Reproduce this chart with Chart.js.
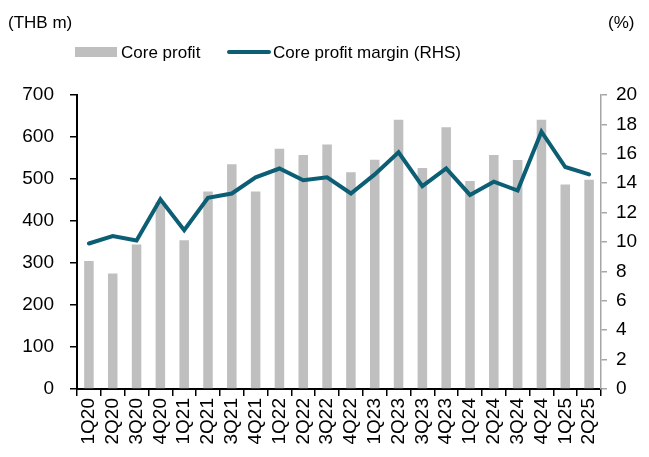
<!DOCTYPE html>
<html>
<head>
<meta charset="utf-8">
<script src="https://cdn.jsdelivr.net/npm/chart.js@4"></script>
<style>
    body { margin: 0; background: #ffffff; }
</style>
</head>
<body>
<canvas id="myChart" width="649" height="457"></canvas>
<script>
const labels = [
    '1Q20', '2Q20', '3Q20', '4Q20',
    '1Q21', '2Q21', '3Q21', '4Q21',
    '1Q22', '2Q22', '3Q22', '4Q22',
    '1Q23', '2Q23', '3Q23', '4Q23',
    '1Q24', '2Q24', '3Q24', '4Q24',
    '1Q25', '2Q25',
];

// THB m
const coreProfit = [305, 275, 344, 445, 354, 470, 535, 470, 572, 557, 582, 516, 546, 641, 526, 623, 495, 557, 545, 641, 487, 498];

// %
const coreMargin = [9.9, 10.4, 10.1, 12.9, 10.8, 13.0, 13.3, 14.4, 15.0, 14.2, 14.4, 13.3, 14.6, 16.1, 13.8, 15.0, 13.2, 14.1, 13.5, 17.5, 15.1, 14.6];

const barColor = '#bfbfbf';
const lineColor = '#0b5e74';
const fontName = '"Liberation Sans", Arial, sans-serif';

// legend and unit captions
const captions = {
    id: 'captions',
    afterDraw(chart) {
        const ctx = chart.ctx;
        ctx.save();
        ctx.fillStyle = '#000000';
        ctx.font = '17px ' + fontName;
        ctx.textBaseline = 'middle';
        ctx.textAlign = 'left';
        ctx.fillText('(THB m)', 8, 23);
        ctx.fillText('(%)', 608, 23);

        ctx.fillStyle = barColor;
        ctx.fillRect(75, 47, 42, 10);
        ctx.fillStyle = '#000000';
        ctx.fillText('Core profit', 121, 53);

        ctx.strokeStyle = lineColor;
        ctx.lineWidth = 4;
        ctx.lineCap = 'round';
        ctx.beginPath();
        ctx.moveTo(229, 52);
        ctx.lineTo(269, 52);
        ctx.stroke();
        ctx.fillText('Core profit margin (RHS)', 273, 53);
        ctx.restore();
    }
};

const data = {
    labels: labels,
    datasets: [{
        type: 'line',
        label: 'Core profit margin (RHS)',
        data: coreMargin,
        yAxisID: 'y1',
        borderColor: lineColor,
        backgroundColor: lineColor,
        borderWidth: 4,
        borderCapStyle: 'round',
        pointRadius: 0,
        tension: 0,
        order: 0,
    }, {
        type: 'bar',
        label: 'Core profit',
        data: coreProfit,
        yAxisID: 'y',
        backgroundColor: barColor,
        categoryPercentage: 1,
        barPercentage: 0.4,
        order: 1,
    }]
};

const config = {
    data: data,
    plugins: [captions],
    options: {
        responsive: false,
        animation: false,
        layout: {
            padding: { top: 95, left: 0, right: 0, bottom: 0 }
        },
        plugins: {
            legend: { display: false },
            tooltip: { enabled: false },
        },
        scales: {
            x: {
                offset: true,
                grid: {
                    offset: true,
                    drawOnChartArea: false,
                    color: '#000000',
                    lineWidth: 1.5,
                    tickLength: 7,
                },
                border: { color: '#000000', width: 2 },
                ticks: {
                    color: '#000000',
                    font: { size: 19, family: fontName },
                    minRotation: 90,
                    maxRotation: 90,
                    autoSkip: false,
                    padding: 2,
                },
                afterFit(scale) { scale.height = 68; },
            },
            y: {
                position: 'left',
                min: 0,
                max: 700,
                grid: {
                    drawOnChartArea: false,
                    color: '#000000',
                    lineWidth: 1.5,
                    tickLength: 7,
                },
                border: { color: '#000000', width: 2 },
                ticks: {
                    stepSize: 100,
                    color: '#000000',
                    font: { size: 19, family: fontName },
                    padding: 16,
                },
                afterFit(scale) { scale.width = 77; },
            },
            y1: {
                position: 'right',
                min: 0,
                max: 20,
                grid: {
                    drawOnChartArea: false,
                    color: '#a6a6a6',
                    lineWidth: 1.5,
                    tickLength: 6,
                },
                border: { color: '#a6a6a6', width: 1.5 },
                ticks: {
                    stepSize: 2,
                    color: '#000000',
                    font: { size: 19, family: fontName },
                    padding: 9,
                },
                afterFit(scale) { scale.width = 48; },
            }
        }
    }
};

const myChart = new Chart(
    document.getElementById('myChart'),
    config
);
</script>
</body>
</html>
